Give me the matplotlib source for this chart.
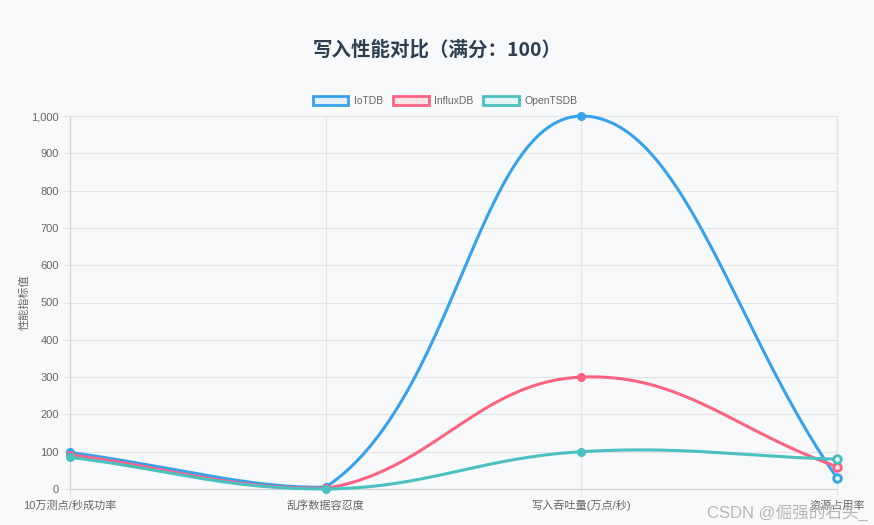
import numpy as np
from matplotlib import pyplot as plt
from matplotlib.patches import Patch

plt.rcParams['font.family'] = ['Liberation Sans', 'Noto Sans CJK SC', 'DejaVu Sans']

# ------------------------- data -------------------------------
categories = ['10万测点/秒成功率', '乱序数据容忍度', '写入吞吐量(万点/秒)', '资源占用率']
series_names = ['IoTDB', 'InfluxDB', 'OpenTSDB']
iotdb = [98, 5, 1000, 30]
influxdb = [92, 2, 300, 60]
opentsdb = [85, 0, 100, 80]
colors = ['#36a2eb', '#ff6384', '#4bc0c0']
fills = ['#e3f0fb', '#fde6ea', '#e2f4f4']
y_ticks = list(range(0, 1001, 100))

bg = '#f8f9fa'
grid_c = '#e4e4e4'
text_c = '#666666'


# ---------------- chart.js like spline (tension 0.4) ----------------
def spline_points(ax, xs, ys, t=0.4, steps=60):
    pts = ax.transData.transform(np.column_stack([xs, ys]))
    n = len(pts)
    cp_prev = np.zeros_like(pts)
    cp_next = np.zeros_like(pts)
    for i in range(n):
        cur = pts[i]
        prv = pts[i - 1] if i > 0 else cur
        nxt = pts[i + 1] if i < n - 1 else cur
        d01 = np.hypot(*(cur - prv))
        d12 = np.hypot(*(nxt - cur))
        tot = d01 + d12
        s01 = d01 / tot if tot else 0
        s12 = d12 / tot if tot else 0
        cp_prev[i] = cur - t * s01 * (nxt - prv)
        cp_next[i] = cur + t * s12 * (nxt - prv)
    # cap control points into the chart area
    (x0, y0), (x1, y1) = ax.transData.transform([[ax.get_xlim()[0], ax.get_ylim()[0]],
                                                 [ax.get_xlim()[1], ax.get_ylim()[1]]])
    for cp in (cp_prev, cp_next):
        cp[:, 0] = np.clip(cp[:, 0], min(x0, x1), max(x0, x1))
        cp[:, 1] = np.clip(cp[:, 1], min(y0, y1), max(y0, y1))
    u = np.linspace(0, 1, steps)[:, None]
    out = []
    for i in range(n - 1):
        p0, p1, p2, p3 = pts[i], cp_next[i], cp_prev[i + 1], pts[i + 1]
        seg = ((1 - u) ** 3) * p0 + 3 * ((1 - u) ** 2) * u * p1 + 3 * (1 - u) * u ** 2 * p2 + u ** 3 * p3
        out.append(seg)
    out = np.vstack(out)
    return ax.transData.inverted().transform(out)


fig = plt.figure(figsize=(8.74, 5.25), dpi=100, facecolor=bg)
W, H = 874, 525
ax = fig.add_axes([70 / W, 1 - 489 / H, (837 - 70) / W, (489 - 116) / H])
ax.set_facecolor(bg)
ax.set_xlim(0, len(categories) - 1)
ax.set_ylim(0, 1000)

x = np.arange(len(categories))
for vals, col, fc in zip([iotdb, influxdb, opentsdb], colors, fills):
    curve = spline_points(ax, x, vals)
    ax.plot(curve[:, 0], curve[:, 1], color=col, lw=2.2, zorder=3, clip_on=False,
            solid_capstyle='round')
    ax.plot(x[:-1], vals[:-1], 'o', ms=5.5, color=col, mec=col, zorder=4, clip_on=False)
    ax.plot(x[-1:], vals[-1:], 'o', ms=5.5, mfc=fc, mec=col, mew=2, zorder=4, clip_on=False)

ax.set_xticks(x)
ax.set_xticklabels(categories)
ax.set_yticks(y_ticks)
ax.set_yticklabels([f'{v:,}' for v in y_ticks])
ax.grid(True, color=grid_c, lw=0.8)
ax.set_axisbelow(True)
ax.tick_params(colors=text_c, labelsize=8, length=5, width=0.8, color=grid_c, pad=3)
for side in ['top', 'right']:
    ax.spines[side].set_color(grid_c)
for side in ['left', 'bottom']:
    ax.spines[side].set_color('#d0d0d0')
for s in ax.spines.values():
    s.set_linewidth(0.8)
ax.set_ylabel('性能指标值', color=text_c, fontsize=8, labelpad=1)

fig.text(437 / W, 1 - 50 / H, '写入性能对比（满分：100）', ha='center', va='center',
         fontsize=14, fontweight='bold', color='#2c3e50',
         family=['Noto Sans CJK SC', 'DejaVu Sans'])

handles = [Patch(facecolor=fc, edgecolor=c, lw=2) for c, fc in zip(colors, fills)]
fig.legend(handles, series_names, loc='center', bbox_to_anchor=(445 / W, 1 - 101 / H),
           ncol=3, frameon=False, fontsize=7.5, handlelength=3.4, handleheight=0.9,
           handletextpad=0.5, columnspacing=1.0, labelcolor=text_c)

fig.text(868 / W, 1 - 512 / H, 'CSDN @倔强的石头_', ha='right', va='center',
         fontsize=12, color='#b0b0b0', alpha=0.9)

fig.savefig('out.png', dpi=100, facecolor=bg)
